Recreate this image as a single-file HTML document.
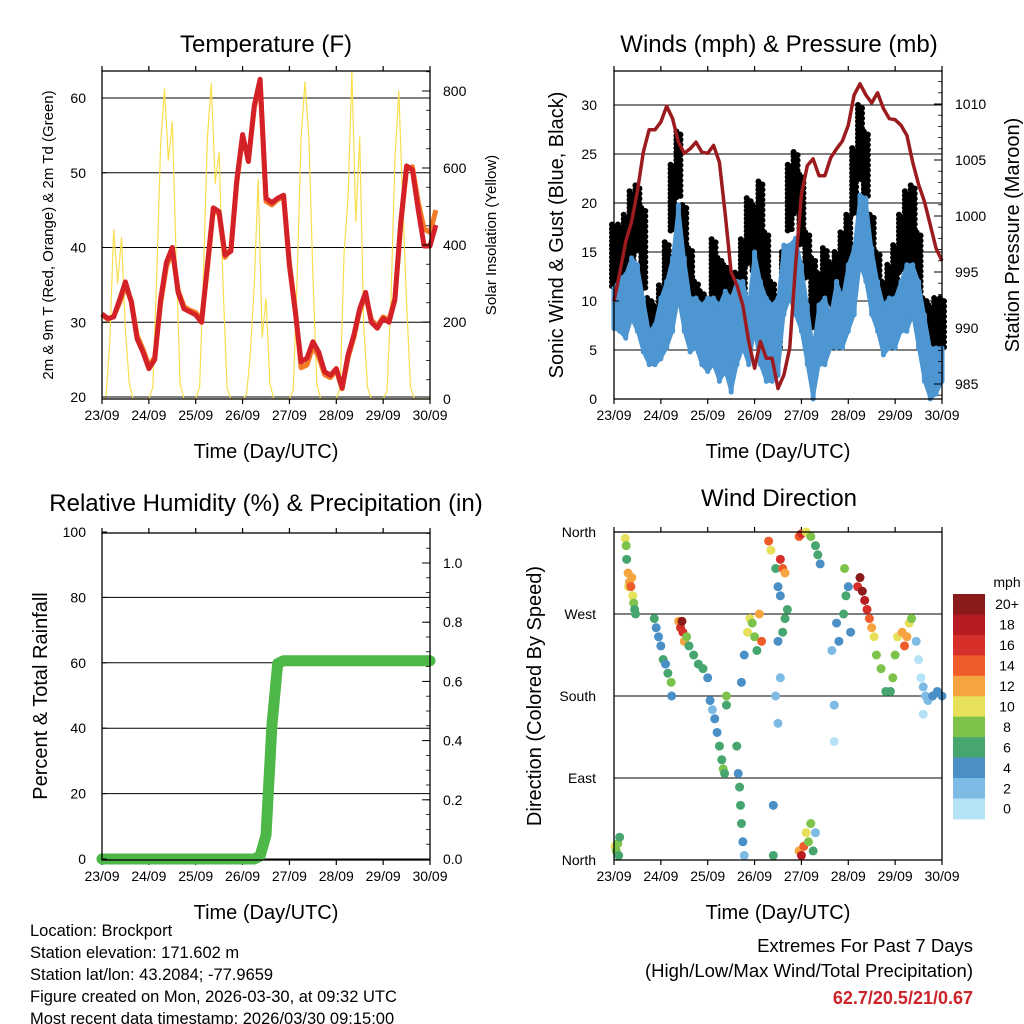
<!DOCTYPE html>
<html><head><meta charset="utf-8"><title>Brockport weather station: 7-day meteogram</title>
<style>
html,body{margin:0;padding:0;background:#fff;}
svg{display:block;font-family:"Liberation Sans",Arial,sans-serif;}
</style></head>
<body>
<svg id="chart" width="1024" height="1024" viewBox="0 0 1024 1024"></svg>
<script>
// ---------- DATA ----------
const dayLabels = ["23/09","24/09","25/09","26/09","27/09","28/09","29/09","30/09"];
const tempStep = 0.125;
const temp2m = [31.1,30.5,30.7,33,35.4,32.7,27.8,26,23.8,25,33,38,40,34,31.8,31.4,31,30,37.6,45.3,44.8,39,39.5,48.9,55.1,51.5,59,62.5,46.6,46,46.6,47,37.6,31.4,24.7,25.2,27.4,26,23.4,22.9,23.8,21.2,25.6,28.3,31.8,34,30,29.2,30.5,30,33,43.3,50.9,50.4,45,40.2,40.2,43];
const temp9m = [31.0,30.4,30.8,32.6,34.8,32.9,28.2,26.4,24.2,25.3,32.5,37.4,39.6,34.3,32.1,31.6,31.3,30.3,37.2,45,44.5,38.7,39.8,48.5,54.8,51.8,58.7,62.1,46.2,45.7,46.4,46.8,37.9,31.7,23.9,24.3,26.8,25.4,23,22.6,23.6,21.1,25.2,28,31.5,33.6,30.3,29.5,30.7,30.3,33.2,43,50.5,50.8,46,42.5,42,45];
const solarStep = 1/12;
const solar = [0,0,150,440,300,420,180,40,0,0,0,0,
               0,30,320,660,805,620,720,360,40,0,0,0,
               0,30,330,680,820,560,640,300,30,0,0,0,
               0,10,120,300,570,160,260,40,0,0,0,0,
               0,25,320,680,824,670,320,40,0,0,0,0,
               0,30,380,520,850,460,680,200,30,0,0,0,
               0,20,260,620,800,510,250,30,0,0,0,0,0];
const pressure = [992.4,995,997.7,999.5,1002.2,1005.7,1007.7,1007.7,1008.4,1009.8,1008.7,1006.6,1005.6,1006,1006.6,1005.7,1005.6,1006.3,1004.8,1000.1,995,993.8,992,988.8,986.4,988.8,987.3,987.3,984.6,985.8,988.2,995.6,1001.9,1004.5,1005.1,1003.6,1003.6,1005.2,1006,1006.7,1008.1,1010.8,1011.8,1010.8,1010.1,1011,1009.6,1008.7,1008.6,1008.1,1007.2,1004.8,1002.8,1001.3,999.2,997.1,996];
const windHi = [11.3,12.3,12.7,14.4,13.7,10.3,6.9,7.6,10.3,12,14.4,19.8,14.4,10.3,10.3,9.6,10.3,10.3,9.6,11,10.3,12,12,9.6,15,12,10.3,9.6,10.3,15.7,15.7,16.4,13.7,9.6,5.2,9.6,10.3,8.6,12,10.3,13.7,15.4,20.8,20.5,15.4,12,9.6,10.3,10.3,12,13.7,13.7,12,8.6,5.2,5.2,5.2];
const windLo = [7.2,6.9,6.2,8.2,6.9,4.8,3.5,3.5,4.1,5.2,6.9,10.3,6.9,4.8,5.2,3.5,2.8,3.5,1.8,2.8,0.7,3.5,5.2,3.5,6.9,3.5,1.8,1.8,2.4,8.6,10.3,8.6,6.9,3.5,0,3.5,3.5,5.2,5.2,5.2,6.9,8.6,13.7,12,8.6,6.9,4.5,5.2,5.2,6.9,6.9,8.6,5.2,1.8,0,0.5,1.8];
const gustHi = [17.8,17.8,18.8,21.2,21.8,19.5,10.3,9.6,11.6,16,23.9,27.3,19.8,15.4,12,11,10.3,16.3,14.4,13.7,12.9,12.9,16.3,20.5,19.8,22.2,17,12,10.3,15,23.9,25.2,22.9,17,14.4,12.9,15.4,14,15,17,18.8,25.6,30,27.3,18.8,15,12,13.7,15.7,18.8,21.2,21.8,17,10.3,9.6,10.3,10.3];
const gustLo = [11.3,11,12,13.7,15,11,6.2,5.8,7.6,10.3,17,20.5,13.7,10.3,7.6,6.9,6.2,8.6,8.6,6.9,6.9,7.6,10.3,13.7,12.9,12,10.3,6.9,5.2,10.3,17,18.8,15.4,12,6.9,7.6,10.3,9.5,10.3,10.3,12,18.8,22.2,20.5,13.7,10.3,7.6,8.6,10.3,12.9,13.7,13.7,10.3,4.1,5.2,5.2,5.2];
const precip = [0,0,0,0,0,0,0,0,0,0,0,0,0,0,0,0,0,0,0,0,0,0,0,0,0,0,0,0.01,0.08,0.45,0.66,0.67,0.67,0.67,0.67,0.67,0.67,0.67,0.67,0.67,0.67,0.67,0.67,0.67,0.67,0.67,0.67,0.67,0.67,0.67,0.67,0.67,0.67,0.67,0.67,0.67,0.67];
const dirDay = [0.02,0.05,0.08,0.1,0.12,0.24,0.26,0.27,0.3,0.31,0.33,0.36,0.38,0.4,0.42,0.44,0.46,0.86,0.9,0.95,1.0,1.05,1.1,1.15,1.22,1.23,1.38,1.42,1.45,1.47,1.5,1.55,1.6,1.7,1.8,1.9,2.0,2.05,2.1,2.15,2.2,2.25,2.3,2.33,2.36,2.4,2.4,2.62,2.65,2.68,2.7,2.72,2.75,2.78,2.72,2.78,2.85,2.9,2.95,3.0,3.05,3.1,3.15,3.3,3.35,3.45,3.5,3.55,3.6,3.65,3.55,3.5,3.55,3.45,3.5,3.6,3.65,3.7,3.4,3.4,3.95,4.0,4.1,4.2,4.3,4.35,4.4,3.95,4.0,4.05,4.1,4.15,4.2,4.25,4.3,4.65,4.7,4.7,4.75,4.8,4.9,4.95,4.92,5.0,5.05,5.2,5.25,5.3,5.35,5.4,5.45,5.5,5.55,5.6,5.7,5.8,5.9,5.95,6.0,6.05,6.15,6.2,6.25,6.3,6.35,6.45,6.5,6.55,6.6,6.65,6.7,6.8,6.9,7.0,6.6];
const dirDeg = [15,10,18,5,25,353,345,330,315,300,305,300,310,290,282,275,270,265,255,245,235,220,215,205,195,180,262,255,262,250,240,245,235,225,215,210,200,175,165,155,140,125,110,100,95,170,180,125,95,80,60,40,20,5,195,225,250,265,260,245,230,270,240,350,340,320,300,330,320,315,290,240,200,180,150,250,265,275,60,5,355,358,360,355,345,335,325,10,5,15,30,20,40,10,30,230,170,130,260,240,270,290,320,300,250,300,310,295,285,275,265,255,245,225,210,185,185,200,225,245,250,235,245,260,265,240,220,200,190,180,175,180,185,180,160];
const dirSpd = [10,9,8,7,6,10,8,7,12,10,13,14,12,11,9,7,7,6,5,4,4,6,4,7,8,4,13,17,20,16,12,8,7,6,6,6,4,4,3,4,5,6,7,8,7,6,8,6,5,6,7,6,4,3,4,5,10,11,9,8,7,12,14,14,10,6,5,16,15,12,4,4,3,2,2,6,7,7,4,6,14,17,10,8,7,6,4,13,18,15,11,8,8,6,3,2,2,1,4,4,6,7,8,4,4,17,20,21,19,16,14,12,11,9,8,7,7,8,9,10,12,14,13,11,9,2,1,1,2,2,3,4,4,4,1];
const speedColors = ["#b4e2f7","#7dbbe5","#4a8fc6","#47a56f","#7dc24b","#e6e05a","#f6a442","#ef5c2b","#d7302a","#b71c23","#8b1a1a"];
const speedLabels = ["0","2","4","6","8","10","12","14","16","18","20+"];
const extremes = "62.7/20.5/21/0.67";

// ---------- HELPERS ----------
const NS = "http://www.w3.org/2000/svg";
const svg = document.getElementById("chart");
function mk(tag, attrs, parent) {
  const e = document.createElementNS(NS, tag);
  for (const k in attrs) e.setAttribute(k, attrs[k]);
  (parent || svg).appendChild(e);
  return e;
}
function txt(s, x, y, size, anchor, parent, extra) {
  const t = mk("text", Object.assign({x:x, y:y, "font-size":size, "text-anchor":anchor||"start", fill:"#000"}, extra||{}), parent);
  t.textContent = s;
  return t;
}
function lin(d0, d1, p0, p1) { return v => p0 + (v - d0) / (d1 - d0) * (p1 - p0); }

const P = {
  temp:{x0:102,x1:430,y0:71,y1:399},
  wind:{x0:614,x1:942,y0:71,y1:399},
  rh:{x0:102,x1:430,y0:533,y1:860},
  dir:{x0:614,x1:942,y0:532,y1:860}
};

function frame(p, g, name) {
  const r = mk("rect", {x:p.x0, y:p.y0, width:p.x1-p.x0, height:p.y1-p.y0, fill:"none", stroke:"#000", "stroke-width":1.3}, g);
  
  
}
function xAxis(p, g, yLab) {
  const sx = lin(0, 7, p.x0, p.x1);
  dayLabels.forEach((l, i) => {
    const x = sx(i);
    mk("line", {x1:x, x2:x, y1:p.y1, y2:p.y1+5, stroke:"#000", "stroke-width":1.2}, g);
    mk("line", {x1:x, x2:x, y1:p.y0, y2:p.y0-5, stroke:"#000", "stroke-width":1.2}, g);
    const t = txt(l, x, p.y1+21, 14, "middle", g);
    
    
  });
  const tt = txt("Time (Day/UTC)", (p.x0+p.x1)/2, yLab, 20, "middle", g);
  
  
  return sx;
}
function grid(p, g, ys) {
  ys.forEach(y => mk("line", {x1:p.x0, x2:p.x1, y1:y, y2:y, stroke:"#000", "stroke-width":1}, g));
}
function leftTicks(p, g, vals, sy, fmt, x) {
  vals.forEach(v => {
    const y = sy(v);
    mk("line", {x1:p.x0, x2:p.x0+5, y1:y, y2:y, stroke:"#000"}, g);
    const t = txt(fmt(v), x, y+5, 14, "end", g);
    
    
  });
}
function rightTicks(p, g, vals, sy, fmt, minorStep, dmin, dmax) {
  for (let v = dmin; v <= dmax + 1e-9; v += minorStep) {
    const y = sy(v);
    if (y < p.y0 || y > p.y1) continue;
    mk("line", {x1:p.x1, x2:p.x1-4, y1:y, y2:y, stroke:"#000", "stroke-width":0.8}, g);
  }
  vals.forEach(v => {
    const y = sy(v);
    mk("line", {x1:p.x1, x2:p.x1-8, y1:y, y2:y, stroke:"#000"}, g);
    const t = txt(fmt(v), p.x1+13, y+5, 14, "start", g);
    
    
  });
}
function rotLabel(s, x, y, size, g, name) {
  const t = txt(s, x, y, size, "middle", g, {transform:`rotate(-90 ${x} ${y})`});
  
  
}
function title(s, x, y, g, name) {
  const t = txt(s, x, y, 24, "middle", g);
  
  
}
function seriesPath(arr, step, sx, sy) {
  return arr.map((v, i) => (i ? "L" : "M") + sx(i*step).toFixed(1) + "," + sy(v).toFixed(1)).join("");
}

// ---------- TEMPERATURE PANEL ----------
(function(){
  const p = P.temp;
  const g = mk("g", {});
  
  
  const sy = lin(20, 60, 397, 98);
  const sr = lin(0, 800, 399, 91);
  grid(p, g, [20,30,40,50,60].map(sy));
  const sx = xAxis(p, g, 458);
  const sol = mk("path", {d:seriesPath(solar, solarStep, sx, sr), fill:"none", stroke:"#f9df4d", "stroke-width":1.2, "stroke-linejoin":"round"}, g);
  
  
  const o = mk("path", {d:seriesPath(temp9m, tempStep, sx, sy), fill:"none", stroke:"#f47b26", "stroke-width":5, "stroke-linejoin":"round"}, g);
  
  
  const r = mk("path", {d:seriesPath(temp2m, tempStep, sx, sy), fill:"none", stroke:"#d42127", "stroke-width":5, "stroke-linejoin":"round"}, g);
  
  
  frame(p, g, 'temperature');
  leftTicks(p, g, [20,30,40,50,60], sy, v => v, 86);
  rightTicks(p, g, [0,200,400,600,800], sr, v => v, 50, 0, 850);
  title("Temperature (F)", 266, 52, g, 'temperature-title');
  rotLabel("2m & 9m T (Red, Orange) & 2m Td (Green)", 53, 235, 15, g, 'temperature-y-title');
  rotLabel("Solar Insolation (Yellow)", 496, 235, 15, g, 'solar-y-title');
})();

// ---------- WIND PANEL ----------
(function(){
  const p = P.wind;
  const g = mk("g", {});
  
  
  const sy = lin(0, 30, 399, 105);
  const sp = lin(985, 1010, 384, 104);
  grid(p, g, [0,5,10,15,20,25,30].map(sy));
  const sx = xAxis(p, g, 458);
  const step = 0.125;
  // gusts: dotted columns
  gustHi.forEach((h, i) => {
    const x = sx(i*step);
    [-2, 2].forEach((dx, k) => {
      const l = mk("line", {x1:x+dx, x2:x+dx, y1:sy(h), y2:sy(gustLo[i]), stroke:"#000", "stroke-width":6, "stroke-linecap":"round", "stroke-dasharray":k ? "0.1 5" : "0.1 4", "stroke-dashoffset":k*2}, g);
      
      
    });
  });
  // wind: filled band
  const poly = windHi.map((h,i)=>sx(i*step)+","+sy(h)).concat(windLo.map((v,i)=>sx(i*step)+","+sy(v)).reverse());
  const pg = mk("polygon", {points:poly.join(" "), fill:"#4d96d1", stroke:"#4d96d1", "stroke-width":3, "stroke-linejoin":"round"}, g);
  
  
  windHi.forEach((h, i) => {
    const x = sx(i*step);
    const l = mk("line", {x1:x, x2:x, y1:sy(h), y2:sy(windLo[i]), stroke:"#4d96d1", "stroke-width":5, "stroke-linecap":"round"}, g);
    
    
  });
  const pr = mk("path", {d:seriesPath(pressure, step, sx, sp), fill:"none", stroke:"#9b1b1e", "stroke-width":3.5, "stroke-linejoin":"round"}, g);
  
  
  frame(p, g, 'wind');
  leftTicks(p, g, [0,5,10,15,20,25,30], sy, v => v, 597);
  rightTicks(p, g, [985,990,995,1000,1005,1010], sp, v => v, 1, 984, 1013);
  title("Winds (mph) & Pressure (mb)", 779, 52, g, 'wind-title');
  rotLabel("Sonic Wind & Gust (Blue, Black)", 563, 235, 20, g, 'wind-y-title');
  rotLabel("Station Pressure (Maroon)", 1019, 235, 20, g, 'pressure-y-title');
})();

// ---------- RH / PRECIP PANEL ----------
(function(){
  const p = P.rh;
  const g = mk("g", {});
  
  
  const sy = lin(0, 100, 859, 532);
  const sr = lin(0, 1, 859, 563);
  grid(p, g, [0,20,40,60,80].map(sy));
  const sx = xAxis(p, g, 919);
  const step = 0.125;
  const pl = mk("path", {d:seriesPath(precip, step, sx, sr), fill:"none", stroke:"#4db848", "stroke-width":11, "stroke-linejoin":"round", "stroke-linecap":"round"}, g);
  
  
  frame(p, g, 'humidity');
  leftTicks(p, g, [0,20,40,60,80,100], sy, v => v, 86);
  rightTicks(p, g, [0,0.2,0.4,0.6,0.8,1.0], sr, v => v.toFixed(1), 0.05, 0, 1.1);
  title("Relative Humidity (%) & Precipitation (in)", 266, 511, g, 'humidity-title');
  rotLabel("Percent & Total Rainfall", 47, 696, 20, g, 'humidity-y-title');
})();

// ---------- WIND DIRECTION PANEL ----------
(function(){
  const p = P.dir;
  const g = mk("g", {});
  
  
  const sy = lin(0, 360, 860, 532);
  grid(p, g, [0,90,180,270,360].map(sy));
  const sx = xAxis(p, g, 919);
  dirDay.forEach((d, i) => {
    const bin = Math.min(10, Math.max(0, Math.floor(dirSpd[i] / 2)));
    const c = mk("circle", {cx:sx(d), cy:sy(dirDeg[i]), r:4.5, fill:speedColors[bin]}, g);
    
    
  });
  frame(p, g, 'direction');
  ["North","East","South","West","North"].forEach((l, i) => {
    const y = sy(i*90);
    const t = txt(l, 596, y+5, 14, "end", g);
    
    
  });
  title("Wind Direction", 779, 506, g, 'direction-title');
  rotLabel("Direction (Colored By Speed)", 541, 696, 20, g, 'direction-y-title');
  const cb = mk("g", {}, g);
  
  
  const top = 594, h = 20.45;
  speedColors.slice().reverse().forEach((c, i) => {
    const r = mk("rect", {x:953, y:top+i*h, width:32, height:h+0.5, fill:c}, cb);
    
    
  });
  speedLabels.slice().reverse().forEach((l, i) => {
    const t = txt(l, 1007, top+i*h+h/2+5, 14, "middle", cb);
    
    
  });
  const u = txt("mph", 1007, 587, 14, "middle", cb);
  
  
})();

// ---------- FOOTER ----------
(function(){
  const g = mk("g", {});
  
  
  const lines = ["Location: Brockport","Station elevation: 171.602 m","Station lat/lon: 43.2084; -77.9659","Figure created on Mon, 2026-03-30, at 09:32 UTC","Most recent data timestamp: 2026/03/30 09:15:00"];
  lines.forEach((s, i) => {
    const t = txt(s, 30, 936 + i*22, 16.5, "start", g);
    
    
  });
  const e1 = txt("Extremes For Past 7 Days", 973, 952, 18.5, "end");
  
  
  const e2 = txt("(High/Low/Max Wind/Total Precipitation)", 973, 977, 18.5, "end");
  
  
  const e3 = txt(extremes, 973, 1004, 18, "end", null, {fill:"#cc2229", "font-weight":"bold"});
  
  
})();
</script>
</body></html>
